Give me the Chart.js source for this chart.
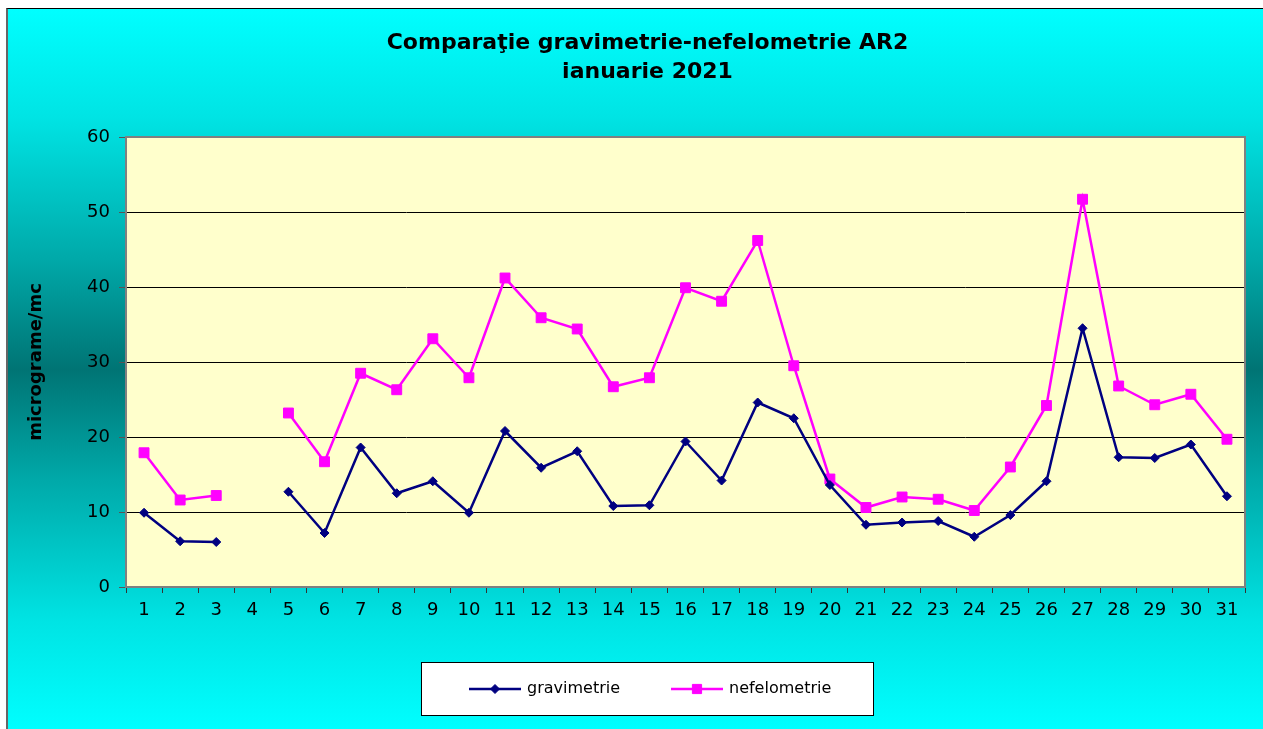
<!DOCTYPE html>
<html lang="ro">
<head>
    <meta charset="UTF-8">
    <title>Comparaţie gravimetrie-nefelometrie AR2</title>
    <style>
        body {
            margin: 0;
            background: #fff;
            overflow: hidden;
        }

        #frame {
            position: absolute;
            left: 6px;
            top: 8px;
            width: 1257px;
            height: 721px;
            border-top: 1px solid #000;
            border-left: 2px solid #666;
            background: linear-gradient(to bottom, #00ffff 0%, #00e4e4 15%, #00a8a8 35%, #007474 50%, #00a8a8 65%, #00e4e4 85%, #00ffff 100%);
        }

        canvas {
            display: block;
        }
    </style>
</head>
<body>
    <div id="frame">
        <canvas id="chart" width="1255" height="720"></canvas>
    </div>

    <script src="https://cdn.jsdelivr.net/npm/chart.js"></script>
    <script>
        const days = ['1', '2', '3', '4', '5', '6', '7', '8', '9', '10', '11', '12', '13', '14', '15', '16',
            '17', '18', '19', '20', '21', '22', '23', '24', '25', '26', '27', '28', '29', '30', '31'];

        const gravimetrie = [9.9, 6.1, 6.0, null, 12.7, 7.2, 18.6, 12.5, 14.1, 9.9, 20.8, 15.9, 18.1, 10.8, 10.9, 19.4,
            14.2, 24.6, 22.5, 13.6, 8.3, 8.6, 8.8, 6.7, 9.6, 14.1, 34.5, 17.3, 17.2, 19.0, 12.1];

        const nefelometrie = [17.9, 11.6, 12.2, null, 23.2, 16.7, 28.5, 26.3, 33.1, 27.9, 41.2, 35.9, 34.4, 26.7, 27.9, 39.9,
            38.1, 46.2, 29.5, 14.4, 10.6, 12.0, 11.7, 10.2, 16.0, 24.2, 51.7, 26.8, 24.3, 25.7, 19.7];

        const titleLines = ['Comparaţie gravimetrie-nefelometrie AR2', 'ianuarie 2021'];

        const FONT = "'DejaVu Sans', sans-serif";

        // plot background, plot border, title and the boxed legend
        const framePlugin = {
            id: 'framePlugin',
            beforeDraw(chart) {
                const { ctx, chartArea: a } = chart;
                ctx.save();
                ctx.fillStyle = '#ffffcc';
                ctx.fillRect(a.left, a.top, a.width, a.height);
                ctx.restore();
            },
            beforeDatasetsDraw(chart) {
                const { ctx, chartArea: a } = chart;
                ctx.save();
                ctx.strokeStyle = '#808080';
                ctx.lineWidth = 2;
                ctx.strokeRect(a.left, a.top, a.width, a.height);
                ctx.restore();
            },
            afterDraw(chart) {
                const ctx = chart.ctx;
                const cx = chart.width / 2 + 12;
                ctx.save();

                // title
                ctx.fillStyle = '#000';
                ctx.font = 'bold 22px ' + FONT;
                ctx.textAlign = 'center';
                ctx.textBaseline = 'middle';
                titleLines.forEach((t, i) => ctx.fillText(t, cx, 34 + i * 29));

                // legend
                const w = 453, h = 54;
                const x0 = Math.round(cx - w / 2);
                const y0 = Math.round(chart.chartArea.bottom + 75);
                ctx.fillStyle = '#fff';
                ctx.fillRect(x0, y0, w, h);
                ctx.strokeStyle = '#000';
                ctx.lineWidth = 1;
                ctx.strokeRect(x0 + 0.5, y0 + 0.5, w - 1, h - 1);

                const cy = y0 + h / 2;
                const offsets = [48, 250];
                chart.data.datasets.forEach((ds, i) => {
                    const lx = x0 + offsets[i];
                    ctx.strokeStyle = ds.borderColor;
                    ctx.lineWidth = 2.5;
                    ctx.beginPath();
                    ctx.moveTo(lx, cy);
                    ctx.lineTo(lx + 52, cy);
                    ctx.stroke();
                    ctx.fillStyle = ds.borderColor;
                    ctx.lineWidth = 1;
                    Chart.helpers.drawPoint(ctx, {
                        pointStyle: ds.pointStyle,
                        radius: ds.pointStyle === 'rect' ? 6.5 : 4.5,
                        borderWidth: 1
                    }, lx + 26, cy);
                    ctx.fillStyle = '#000';
                    ctx.font = '16px ' + FONT;
                    ctx.textBaseline = 'middle';
                    ctx.textAlign = 'left';
                    ctx.fillText(ds.label, lx + 58, cy);
                });
                ctx.restore();
            }
        };

        const ctx = document.getElementById('chart').getContext('2d');

        new Chart(ctx, {
            type: 'line',
            data: {
                labels: days,
                datasets: [
                    {
                        label: 'gravimetrie',
                        data: gravimetrie,
                        borderColor: '#000080',
                        backgroundColor: '#000080',
                        borderWidth: 2.5,
                        pointStyle: 'rectRot',
                        pointRadius: 4.5,
                        pointBorderWidth: 1,
                        fill: false,
                        tension: 0,
                        spanGaps: false
                    },
                    {
                        label: 'nefelometrie',
                        data: nefelometrie,
                        borderColor: '#ff00ff',
                        backgroundColor: '#ff00ff',
                        borderWidth: 2.5,
                        pointStyle: 'rect',
                        pointRadius: 7,
                        pointBorderWidth: 1,
                        fill: false,
                        tension: 0,
                        spanGaps: false
                    }
                ]
            },
            options: {
                responsive: false,
                animation: false,
                devicePixelRatio: 1,
                layout: {
                    padding: { left: 0, right: 18, top: 128, bottom: 92 }
                },
                plugins: {
                    legend: { display: false },
                    tooltip: { enabled: false },
                    title: { display: false }
                },
                scales: {
                    x: {
                        offset: true,
                        afterFit(scale) { scale.height = 50; },
                        grid: {
                            offset: true,
                            drawOnChartArea: false,
                            tickLength: 6,
                            color: '#333'
                        },
                        border: { color: '#808080', width: 2 },
                        ticks: {
                            color: '#000',
                            font: { family: FONT, size: 18 },
                            padding: 7,
                            maxRotation: 0,
                            autoSkip: false
                        }
                    },
                    y: {
                        min: 0,
                        max: 60,
                        afterFit(scale) { scale.width = 118; },
                        grid: {
                            color: '#000',
                            lineWidth: 1,
                            tickLength: 7,
                            tickColor: '#555'
                        },
                        border: { color: '#808080', width: 2 },
                        ticks: {
                            stepSize: 10,
                            color: '#000',
                            font: { family: FONT, size: 18 },
                            padding: 9
                        },
                        title: {
                            display: true,
                            text: 'micrograme/mc',
                            color: '#000',
                            font: { family: FONT, size: 18, weight: 'bold' },
                            padding: { top: 18, bottom: 0 }
                        }
                    }
                }
            },
            plugins: [framePlugin]
        });
    </script>
</body>
</html>
